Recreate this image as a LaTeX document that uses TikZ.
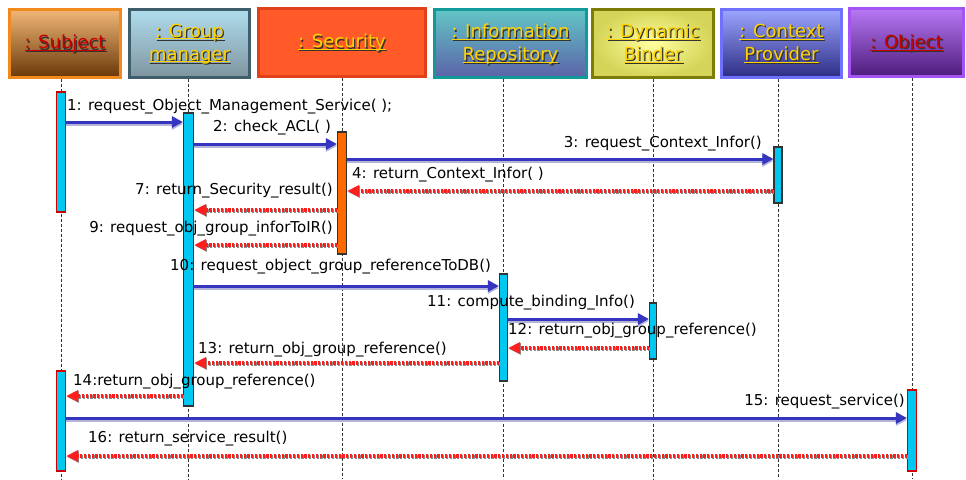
\documentclass[tikz,border=0pt]{standalone}
\usepackage{fontspec}
\setmainfont{DejaVu Sans}
\usetikzlibrary{arrows.meta}

\definecolor{subTop}{HTML}{F2B878}
\definecolor{subBot}{HTML}{6A3808}
\definecolor{subLine}{HTML}{F08A1E}
\definecolor{grpTop}{HTML}{B0DDEE}
\definecolor{grpBot}{HTML}{7F95A0}
\definecolor{grpLine}{HTML}{3F5E6C}
\definecolor{secFill}{HTML}{FF5A28}
\definecolor{secLine}{HTML}{E0401A}
\definecolor{infTop}{HTML}{62C6C6}
\definecolor{infBot}{HTML}{5C62A8}
\definecolor{infLine}{HTML}{12999A}
\definecolor{bndIn}{HTML}{FFFFA0}
\definecolor{bndOut}{HTML}{D4D458}
\definecolor{bndLine}{HTML}{7C7C08}
\definecolor{ctxTop}{HTML}{9CA6FF}
\definecolor{ctxBot}{HTML}{2C2C84}
\definecolor{ctxLine}{HTML}{7070FF}
\definecolor{objTop}{HTML}{B878F4}
\definecolor{objBot}{HTML}{4C1C7C}
\definecolor{objLine}{HTML}{A454F4}
\definecolor{nameRed}{HTML}{C80000}
\definecolor{nameGold}{HTML}{FFD200}
\definecolor{barCyan}{HTML}{00C8F0}
\definecolor{barOrange}{HTML}{FF6A00}
\definecolor{callBlue}{HTML}{3535C0}
\definecolor{callShade}{HTML}{B4B4D8}
\definecolor{retRed}{HTML}{FF1E1E}

% underline sitting just below the baseline, descenders crossing it
\newcommand\hul[1]{\underline{\raisebox{0pt}[\height][0pt]{#1}}}

% object name with a dark drop shadow
\newcommand\headtext[3]{%
  \node[htxt, text=black!80] (#1-sh) at ([shift={(1.3pt,-1.3pt)}]#1.center) {#3};
  \node[htxt, text=#2] (#1-t) at (#1.center) {#3};}

% synchronous call: blue arrow with a soft shade below
\newcommand\callmsg[3]{%
  \draw[callshadow, transform canvas={yshift=-2pt}] (#1 |- 0,#3) -- (#2 |- 0,#3);
  \draw[call] (#1 |- 0,#3) -- (#2 |- 0,#3);}

% return: dotted red arrow with a grey shade
\newcommand\retmsg[3]{%
  \draw[retshadow, transform canvas={shift={(0.9pt,-0.9pt)}}] (#1 |- 0,#3) -- (#2 |- 0,#3);
  \draw[ret] (#1 |- 0,#3) -- (#2 |- 0,#3);}

\begin{document}
\begin{tikzpicture}[x=1pt,y=-1pt,
  head/.style={line width=3pt, inner sep=0pt, minimum height=68pt},
  htxt/.style={font=\fontsize{18}{24}\selectfont, align=center, inner sep=0pt},
  life/.style={draw=black!80, line width=0.9pt, dash pattern=on 3pt off 2pt},
  actbar/.style={fill=barCyan, draw=black!80, line width=1.1pt, inner sep=0pt, minimum width=9pt},
  call/.style={draw=callBlue, line width=3pt, -{Triangle[length=11pt,width=11pt]}},
  callshadow/.style={draw=callShade, line width=3pt, -{Triangle[length=11pt,width=11pt]}},
  ret/.style={draw=retRed, line width=3.5pt, dash pattern=on 2.2pt off 1.6pt,
    -{Triangle[length=12pt,width=11pt,fill=retRed]}},
  retshadow/.style={draw=black!45, line width=3.5pt, dash pattern=on 2.2pt off 1.6pt,
    -{Triangle[length=12pt,width=11pt]}},
  lbl/.style={font=\fontsize{15}{17}\selectfont, inner sep=0pt, text=black}
]
\useasboundingbox (0,0) rectangle (966,479);

% ---- object heads ----
\node[head, draw=subLine, top color=subTop, bottom color=subBot, minimum width=111pt] (hsub) at (65,43) {};
\node[head, draw=grpLine, top color=grpTop, bottom color=grpBot, minimum width=120pt] (hgrp) at (189.5,43) {};
\node[head, draw=secLine, fill=secFill, minimum width=167pt] (hsec) at (342,42) {};
\node[head, draw=infLine, top color=infTop, bottom color=infBot, minimum width=152pt] (hinf) at (510.5,43.5) {};
\node[head, draw=bndLine, shading=radial, inner color=bndIn, outer color=bndOut, minimum width=121pt] (hbnd) at (653,43) {};
\node[head, draw=ctxLine, top color=ctxTop, bottom color=ctxBot, minimum width=120pt] (hctx) at (781.5,43.5) {};
\node[head, draw=objLine, top color=objTop, bottom color=objBot, minimum width=114pt] (hobj) at (906.5,42.5) {};

\headtext{hsub}{nameRed}{\hul{: Subject}}
\headtext{hgrp}{nameGold}{\hul{: Group}\\[-1pt]\hul{manager}}
\headtext{hsec}{nameGold}{\hul{: Security}}
\headtext{hinf}{nameGold}{\hul{: Information}\\[-1pt]\hul{Repository}}
\headtext{hbnd}{nameGold}{\hul{: Dynamic}\\[-1pt]\hul{Binder}}
\headtext{hctx}{nameGold}{\hul{: Context}\\[-1pt]\hul{Provider}}
\headtext{hobj}{nameRed}{\hul{: Object}}

% ---- lifeline positions ----
\coordinate (xsub) at (61,0);
\coordinate (xgrp) at (188.5,0);
\coordinate (xsec) at (342,0);
\coordinate (xinf) at (503.5,0);
\coordinate (xbnd) at (653,0);
\coordinate (xctx) at (778,0);
\coordinate (xobj) at (912,0);

\foreach \h/\x in {hsub/xsub, hgrp/xgrp, hsec/xsec, hinf/xinf, hbnd/xbnd, hctx/xctx, hobj/xobj}
  \draw[life] (\h.south -| \x) -- (\x |- 0,479);

% ---- activation bars ----
\node[actbar, draw=red!80!black, minimum height=120pt] (sub1) at (xsub |- 0,152) {};
\node[actbar, draw=red!80!black, minimum height=100pt] (sub2) at (xsub |- 0,421) {};
\node[actbar, minimum width=10pt, minimum height=293pt] (grp) at (xgrp |- 0,259.5) {};
\node[actbar, fill=barOrange, minimum height=122pt] (sec) at (xsec |- 0,193) {};
\node[actbar, minimum width=8pt, minimum height=56pt] (ctx) at (xctx |- 0,175) {};
\node[actbar, minimum width=8pt, minimum height=107pt] (inf) at (xinf |- 0,327.5) {};
\node[actbar, minimum width=7pt, minimum height=56pt] (bnd) at (xbnd |- 0,331) {};
\node[actbar, draw=red!80!black, minimum height=81pt] (obj) at (xobj |- 0,430.5) {};

% ---- messages ----
\callmsg{sub1.east}{grp.west}{122}
\callmsg{grp.east}{sec.west}{144}
\callmsg{sec.east}{ctx.west}{159}
\retmsg{ctx.west}{sec.east}{191}
\retmsg{sec.west}{grp.east}{210}
\retmsg{sec.west}{grp.east}{245}
\callmsg{grp.east}{inf.west}{286}
\callmsg{inf.east}{bnd.west}{319}
\retmsg{bnd.west}{inf.east}{348}
\retmsg{inf.west}{grp.east}{363}
\retmsg{grp.west}{sub2.east}{396}
\callmsg{sub2.east}{obj.west}{418}
\retmsg{obj.west}{sub2.east}{456}

% ---- message labels ----
\node[lbl, anchor=west] (l1) at (67,107) {1: request\_Object\_Management\_Service( );};
\node[lbl, anchor=west] (l2) at (213,128) {2: check\_ACL( )};
\node[lbl, anchor=east] (l3) at (762,144) {3: request\_Context\_Infor()};
\node[lbl, anchor=west] (l4) at (352,175) {4: return\_Context\_Infor( )};
\node[lbl, anchor=east] (l7) at (333,191) {7: return\_Security\_result()};
\node[lbl, anchor=east] (l9) at (333,229) {9: request\_obj\_group\_inforToIR()};
\node[lbl, anchor=west] (l10) at (170,267) {10: request\_object\_group\_referenceToDB()};
\node[lbl, anchor=west] (l11) at (427,303) {11: compute\_binding\_Info()};
\node[lbl, anchor=west] (l12) at (508,331) {12: return\_obj\_group\_reference()};
\node[lbl, anchor=west] (l13) at (198,350) {13: return\_obj\_group\_reference()};
\node[lbl, anchor=west] (l14) at (73,382) {14:return\_obj\_group\_reference()};
\node[lbl, anchor=east] (l15) at (905,402) {15: request\_service()};
\node[lbl, anchor=west] (l16) at (88,439) {16: return\_service\_result()};
\end{tikzpicture}
\end{document}
